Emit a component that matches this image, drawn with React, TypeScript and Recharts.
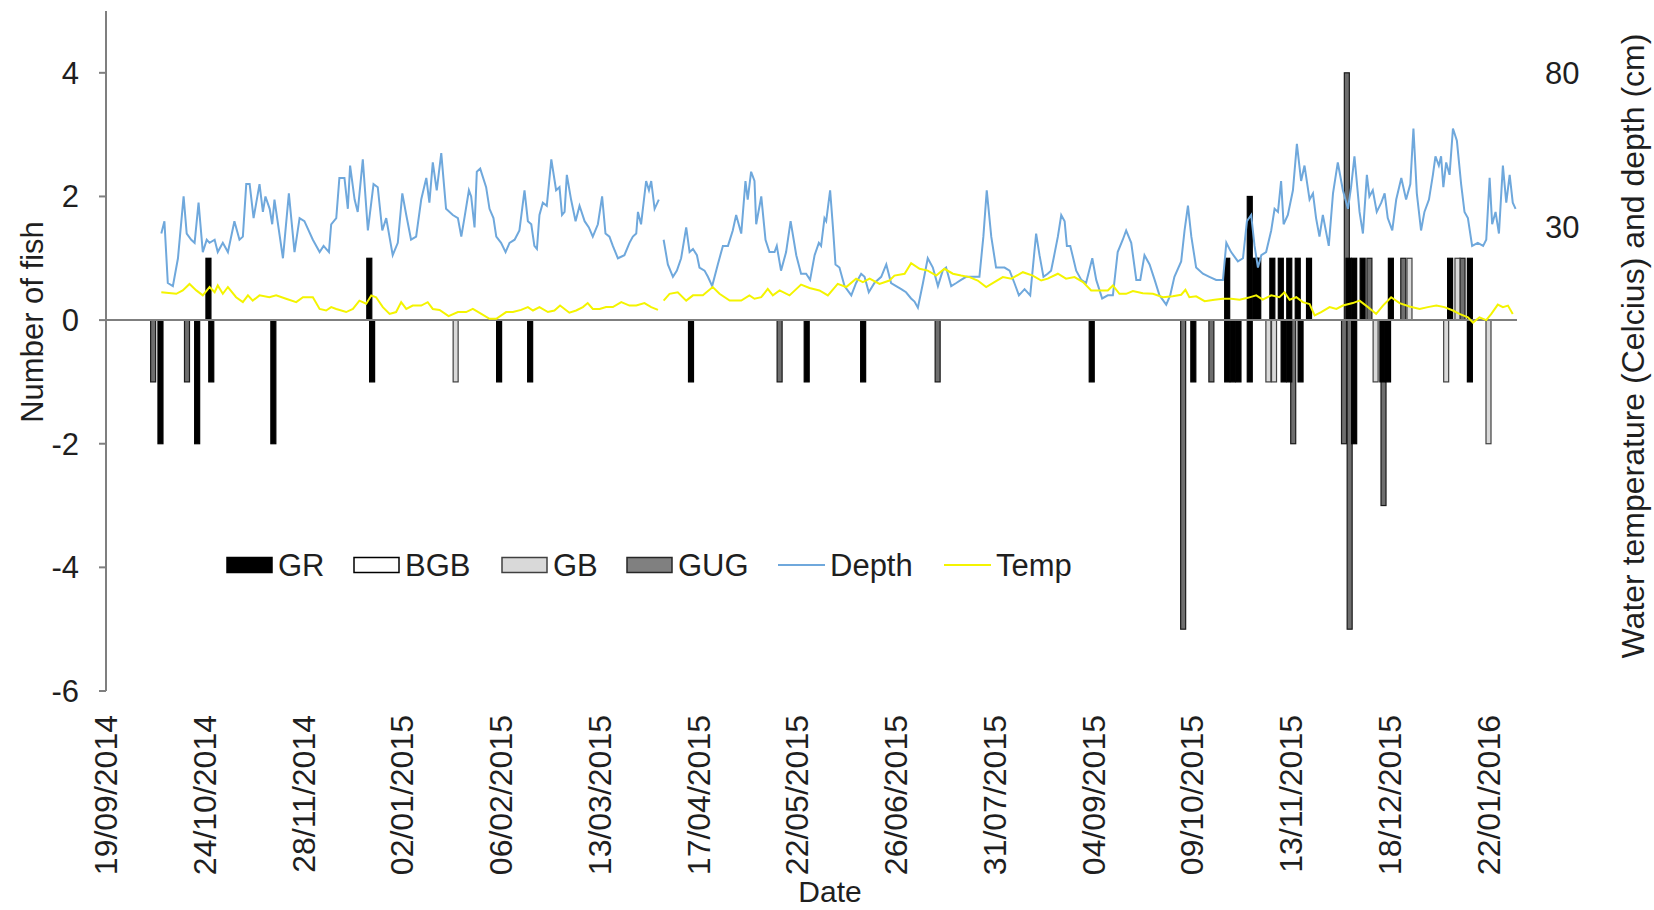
import { ComposedChart, Bar, Line, XAxis, YAxis, ReferenceLine } from 'recharts';

// all x values are days since 19/09/2014
const START = Date.UTC(2014, 8, 19);
const DAY_MS = 86400000;

const dateTicks = [0, 35, 70, 105, 140, 175, 210, 245, 280, 315, 350, 385, 420, 455, 490];
const fishTicks = [-6, -4, -2, 0, 2, 4];
const envTicks = [30, 80];

// fish passing the counter: [day, count], positive = upstream, negative = downstream
const grMoves: [number, number][] = [
  [19, -2], [32, -2], [36, 1], [37, -1], [59, -2], [93, 1], [94, -1], [139, -1], [150, -1],
  [207, -1], [248, -1], [268, -1], [349, -1], [385, -1], [397, 1], [397, -1], [399, -1],
  [401, -1], [405, 2], [405, -1], [407, 1], [408, 1], [413, 1], [416, 1], [417, -1],
  [419, 1], [419, -1], [422, 1], [423, -1], [426, 1], [440, 1], [442, 1], [442, -2],
  [445, 1], [452, -1], [454, -1], [455, 1], [476, 1], [483, 1], [483, -1],
];
const bgbMoves: [number, number][] = [];
const gbMoves: [number, number][] = [
  [124, -1], [412, -1], [414, -1], [450, -1], [462, 1], [475, -1], [479, 1], [490, -2],
];
const gugMoves: [number, number][] = [
  [17, -1], [29, -1], [239, -1], [295, -1], [382, -5], [392, -1], [421, -2], [439, -2],
  [440, 4], [441, -5], [448, 1], [453, -3], [460, 1], [481, 1],
];

// logger readings: [day, value]; null marks the gap in early April 2015
const depthCm: [number, number | null][] = [
  [19.6, 28], [20.7, 32], [21.9, 12], [23.7, 11], [25.5, 20], [27.5, 40], [28.6, 28], [30.2, 26],
  [31.4, 25], [32.8, 38], [34.3, 22], [35.7, 26], [36.7, 25], [38.5, 26], [39.6, 22], [41.4, 25],
  [43.2, 22], [45.5, 32], [47.3, 26], [48.5, 27], [49.7, 44], [50.9, 44], [52.3, 33], [54.4, 44],
  [55.6, 35], [56.5, 40], [58.0, 36], [58.9, 31], [59.7, 39], [62.7, 20], [64.8, 41], [66.8, 22],
  [68.6, 33], [70.3, 32], [73.3, 26], [75.7, 22], [77.1, 24], [79.0, 22], [79.8, 31], [81.6, 33],
  [82.7, 46], [84.5, 46], [85.7, 36], [86.5, 50], [88.1, 39], [89.2, 35], [91.0, 52], [92.8, 29],
  [94.8, 44], [96.3, 43], [97.9, 29], [99.3, 33], [101.6, 21], [103.4, 25], [105.0, 41], [106.4, 34],
  [108.1, 26], [109.9, 27], [111.7, 39], [113.5, 46], [114.6, 38], [115.8, 51], [117.2, 42], [118.8, 54],
  [120.5, 36], [122.9, 34], [124.7, 33], [125.9, 27], [127.0, 33], [128.6, 42], [129.4, 40], [130.6, 30],
  [131.4, 48], [132.6, 49], [134.7, 43], [135.9, 36], [137.3, 33], [138.3, 27], [140.0, 25], [141.6, 22],
  [143.0, 25], [144.8, 26], [146.5, 29], [148.3, 42], [149.5, 32], [150.7, 31], [151.8, 24], [152.7, 23],
  [153.6, 34], [154.8, 38], [156.2, 37], [157.8, 52], [159.5, 42], [160.7, 43], [161.6, 34], [162.5, 35],
  [163.3, 47], [164.8, 39], [166.4, 32], [167.8, 37], [169.6, 32], [171.1, 30], [172.5, 27], [174.3, 31],
  [175.8, 40], [177.0, 28], [178.4, 27], [179.6, 24], [181.4, 20], [183.7, 21], [185.5, 25], [186.7, 27],
  [187.9, 28], [188.5, 35], [189.6, 31], [191.4, 45], [192.4, 42], [193.2, 45], [194.4, 36], [195.9, 39],
  [196.8, null],
  [197.6, 26], [199.1, 18], [200.9, 14], [202.3, 16], [203.8, 20], [205.6, 30], [206.8, 22], [208.0, 23],
  [209.4, 21], [210.3, 17], [212.1, 16], [213.3, 14], [214.8, 11], [216.8, 18], [218.6, 24], [220.4, 24],
  [222.1, 29], [223.3, 34], [225.1, 28], [226.6, 45], [227.4, 39], [228.6, 48], [229.8, 45], [230.4, 31],
  [232.2, 40], [233.7, 26], [235.1, 22], [236.9, 22], [237.7, 24], [239.2, 16], [241.0, 22], [242.6, 32],
  [244.6, 21], [246.3, 15], [248.1, 15], [249.5, 13], [251.1, 21], [252.6, 25], [253.4, 24], [254.6, 33],
  [255.2, 32], [256.6, 42], [257.6, 30], [258.5, 18], [259.9, 17], [261.7, 11], [264.1, 8], [265.8, 12],
  [267.6, 15], [268.8, 14], [270.3, 9], [272.3, 12], [274.7, 14], [276.5, 18], [278.2, 12], [280.0, 11],
  [281.8, 10], [283.5, 9], [285.3, 7], [286.5, 6], [287.7, 4], [289.5, 12], [291.2, 20], [293.0, 17],
  [294.8, 11], [296.5, 16], [297.7, 17], [299.5, 11], [301.3, 12], [303.0, 13], [304.8, 14], [307.2, 14],
  [309.5, 14], [310.9, 27], [312.1, 42], [313.7, 27], [315.4, 17], [318.4, 17], [320.2, 16], [321.9, 12],
  [323.5, 8], [325.5, 10], [327.5, 8], [329.6, 28], [330.8, 21], [332.2, 14], [333.7, 15], [334.9, 16],
  [335.8, 20], [337.3, 27], [338.5, 34], [339.7, 32], [340.5, 24], [341.7, 24], [343.8, 16], [345.6, 13],
  [347.3, 12], [349.5, 20], [350.9, 13], [353.0, 7], [355.0, 8], [356.8, 8], [358.5, 22], [360.3, 26],
  [361.5, 29], [363.3, 25], [365.1, 13], [366.5, 13], [368.0, 21], [369.8, 18], [371.6, 13], [373.3, 8],
  [375.7, 5], [377.1, 8], [378.6, 14], [381.0, 19], [382.2, 29], [383.4, 37], [384.6, 27], [386.3, 17],
  [388.7, 15], [391.0, 14], [393.4, 13], [395.8, 13], [397.0, 25], [398.7, 22], [401.1, 19], [402.9, 20],
  [404.3, 32], [405.8, 34], [407.0, 24], [408.2, 17], [409.4, 21], [411.1, 22], [412.9, 29], [414.1, 36],
  [415.3, 35], [416.4, 45], [417.3, 31], [418.8, 34], [420.6, 42], [422.0, 57], [423.5, 45], [424.7, 50],
  [426.5, 39], [427.7, 41], [428.8, 33], [430.0, 27], [431.2, 34], [433.3, 24], [434.8, 41], [436.5, 51],
  [438.3, 42], [440.1, 36], [441.2, 43], [442.4, 53], [444.2, 35], [445.4, 28], [446.8, 47], [447.7, 40],
  [448.9, 42], [450.3, 35], [451.9, 38], [453.1, 41], [454.2, 33], [455.8, 29], [457.2, 39], [459.0, 46],
  [460.7, 39], [462.2, 44], [463.3, 62], [464.5, 41], [466.0, 29], [467.2, 35], [468.8, 39], [470.2, 47],
  [471.1, 53], [472.3, 50], [473.1, 53], [473.9, 43], [474.9, 51], [476.1, 47], [477.3, 62], [478.7, 58],
  [480.2, 44], [481.4, 35], [482.6, 33], [484.1, 24], [486.1, 25], [488.0, 24], [489.1, 26], [490.3, 46],
  [491.2, 31], [492.4, 35], [493.6, 28], [495.0, 50], [496.2, 38], [497.4, 47], [498.5, 38], [499.5, 36],
];

const tempC: [number, number | null][] = [
  [19.6, 9], [24.9, 8.5], [27.2, 9.6], [29.6, 11.7], [32.0, 9.6], [34.3, 8], [36.7, 10.7], [38.5, 9],
  [39.6, 11.2], [41.4, 8.5], [43.2, 10.7], [46.1, 7.4], [48.5, 5.8], [50.3, 8], [52.0, 6.3], [54.4, 8],
  [57.9, 7.4], [60.3, 8], [63.8, 6.9], [67.4, 5.8], [69.8, 7.4], [73.3, 7.4], [75.7, 3.6], [78.0, 3.1],
  [79.8, 4.2], [81.6, 3.6], [85.1, 2.6], [87.5, 3.6], [89.8, 6.3], [92.2, 5.3], [94.0, 8], [95.7, 7.4],
  [98.1, 4.2], [100.5, 2], [102.8, 2.6], [104.6, 5.8], [106.4, 3.6], [108.7, 4.7], [111.7, 4.7], [114.0, 5.8],
  [115.8, 3.6], [118.2, 3.3], [121.4, 1.3], [124.7, 2.6], [127.6, 2.6], [130.0, 3.6], [133.0, 2], [135.9, 0.4],
  [138.3, 0.4], [141.8, 2.6], [144.2, 2.6], [147.1, 3.3], [149.5, 4.2], [151.3, 3.1], [153.6, 4.2], [156.6, 2.6],
  [158.9, 3.1], [160.9, 4.7], [162.5, 3.6], [164.2, 2.4], [166.6, 3.1], [169.0, 4.2], [170.7, 5.5], [172.5, 3.6],
  [174.9, 3.6], [177.2, 4.2], [179.6, 4.2], [182.6, 5.8], [185.5, 4.7], [187.9, 4.7], [190.8, 5.5], [193.2, 4.2],
  [195.6, 3.3],
  [196.8, null],
  [197.6, 6.3], [199.7, 8.5], [202.6, 9], [205.6, 6.3], [208.0, 8], [211.5, 8], [215.0, 10.7], [217.4, 8.5],
  [221.0, 6.3], [225.1, 6.3], [228.0, 8], [229.8, 6.9], [232.2, 7.4], [234.5, 10.1], [236.3, 8], [238.7, 9.6],
  [242.2, 8], [246.3, 11.5], [249.3, 10.4], [252.8, 9.6], [255.8, 8], [259.3, 11.7], [262.3, 10.7], [265.8, 13.4],
  [268.2, 12.3], [270.6, 13.4], [274.1, 11.7], [277.6, 12.8], [279.4, 14.4], [283.0, 15], [285.3, 18.4], [288.3, 16.6],
  [291.2, 16], [294.2, 14.4], [297.1, 16.6], [300.1, 15], [303.0, 14.4], [306.0, 13.9], [308.9, 12.8], [311.9, 10.7],
  [314.8, 12.3], [317.8, 13.9], [320.8, 13.4], [324.9, 15.5], [328.4, 14.4], [331.4, 12.8], [333.7, 13.4], [337.3, 15],
  [340.2, 13.4], [343.2, 13.9], [346.2, 12.3], [349.1, 9.6], [352.1, 9.6], [355.0, 9.6], [356.8, 11.2], [359.1, 8.5],
  [361.5, 8.5], [363.9, 9.4], [367.4, 8.7], [371.0, 8.5], [374.5, 7.4], [378.0, 7.7], [381.0, 8.2], [382.5, 9.8],
  [383.9, 7.4], [386.3, 7.7], [389.3, 6.1], [392.8, 6.6], [395.8, 6.9], [398.7, 6.9], [401.7, 6.6], [404.6, 7.2],
  [407.6, 8], [409.9, 6.6], [412.9, 8], [415.8, 7.4], [417.6, 9], [419.4, 6.6], [421.8, 7.4], [424.1, 5.8],
  [426.5, 5.2], [428.3, 1.5], [430.6, 2.6], [433.6, 4.2], [436.0, 3.6], [438.3, 4.7], [441.8, 5.5], [444.2, 6.3],
  [447.2, 4.2], [450.1, 2], [452.5, 4.7], [455.4, 7.4], [458.4, 5.5], [461.9, 4.4], [465.5, 3.6], [468.4, 4.2],
  [471.4, 4.7], [474.3, 4.2], [477.3, 3.1], [479.6, 2], [482.6, 0.9], [484.4, -0.8], [486.7, 0.9], [489.1, 0],
  [490.9, 2], [493.2, 5], [495.0, 4.2], [496.8, 4.7], [498.5, 2],
];

const FONT = '"Liberation Sans", Arial, sans-serif';
const TEXT = '#1f1f1f';
const AXIS = '#7f7f7f';
const DEPTH_COLOR = '#6fa8dc';
const TEMP_COLOR = '#f4f400';

// drawn back to front, so GR ends up on top
const species = [
  { key: 'GUG', moves: gugMoves, fill: '#6e6e6e', stroke: '#1a1a1a' },
  { key: 'GB', moves: gbMoves, fill: '#d9d9d9', stroke: '#404040' },
  { key: 'BGB', moves: bgbMoves, fill: '#ffffff', stroke: '#000000' },
  { key: 'GR', moves: grMoves, fill: '#000000', stroke: '#000000' },
];

const byDay = new Map<number, Record<string, number>>();
species.forEach((s) => {
  s.moves.forEach(([day, n]) => {
    const row = byDay.get(day) ?? { day };
    const k = s.key + (n > 0 ? 'up' : 'down');
    row[k] = (row[k] ?? 0) + n;
    byDay.set(day, row);
  });
});
const fishRows = [...byDay.values()].sort((a, b) => a.day - b.day);

const depthRows = depthCm.map(([day, v]) => ({ day, depth: v }));
const tempRows = tempC.map(([day, v]) => ({ day, temp: v }));

const fmtDate = (d: number) => {
  const dt = new Date(START + d * DAY_MS);
  const dd = String(dt.getUTCDate()).padStart(2, '0');
  const mm = String(dt.getUTCMonth() + 1).padStart(2, '0');
  return `${dd}/${mm}/${dt.getUTCFullYear()}`;
};

const BAR_W = 5;

function FishBar(props: any) {
  const { x, y, width, height, fill, stroke } = props;
  if (!Number.isFinite(height) || Math.abs(height) < 0.5) return <g />;
  const top = height < 0 ? y + height : y;
  return (
    <rect
      x={x + width / 2 - BAR_W / 2}
      y={top}
      width={BAR_W}
      height={Math.abs(height)}
      fill={fill}
      stroke={stroke}
      strokeWidth={1.2}
    />
  );
}

function DateTick({ x, y, payload }: any) {
  return (
    <text
      x={x}
      y={y}
      transform={`rotate(-90, ${x}, ${y})`}
      textAnchor="end"
      dominantBaseline="central"
      fontSize={32}
      fontFamily={FONT}
      fill={TEXT}
    >
      {fmtDate(payload.value)}
    </text>
  );
}

const legendBoxes = [
  { label: 'GR', x: 227, fill: '#000000', stroke: '#000000' },
  { label: 'BGB', x: 354, fill: '#ffffff', stroke: '#000000' },
  { label: 'GB', x: 502, fill: '#d9d9d9', stroke: '#404040' },
  { label: 'GUG', x: 627, fill: '#808080', stroke: '#262626' },
];
const legendLines = [
  { label: 'Depth', x: 778, color: DEPTH_COLOR },
  { label: 'Temp', x: 944, color: TEMP_COLOR },
];

export default function App() {
  const tickStyle = { fontSize: 31, fontFamily: FONT, fill: TEXT };
  const LY = 565;
  return (
    <div style={{ position: 'absolute', left: 0, top: 0, width: 1654, height: 910, background: '#fff' }}>
      <ComposedChart
        width={1654}
        height={910}
        data={fishRows}
        stackOffset="sign"
        margin={{ top: 11, right: 0, bottom: 0, left: 0 }}
      >
        <XAxis
          dataKey="day"
          type="number"
          domain={[0, 500]}
          ticks={dateTicks}
          interval={0}
          height={219}
          axisLine={false}
          tickLine={false}
          tickSize={0}
          tickMargin={24}
          tick={<DateTick />}
        />
        <XAxis xAxisId="logger" dataKey="day" type="number" domain={[0, 500]} hide />
        <YAxis
          yAxisId="fish"
          domain={[-6, 5]}
          ticks={fishTicks}
          interval={0}
          width={106}
          axisLine={{ stroke: AXIS, strokeWidth: 2 }}
          tickLine={{ stroke: AXIS, strokeWidth: 2 }}
          tickSize={7}
          tickMargin={20}
          tick={tickStyle}
        />
        <YAxis
          yAxisId="env"
          orientation="right"
          domain={[-120, 100]}
          ticks={envTicks}
          interval={0}
          width={137}
          axisLine={false}
          tickLine={false}
          tickSize={0}
          tickMargin={28}
          tick={tickStyle}
        />
        <ReferenceLine yAxisId="fish" y={0} stroke={AXIS} strokeWidth={2} />
        {species.flatMap((s) =>
          ['up', 'down'].map((dir) => (
            <Bar
              key={s.key + dir}
              yAxisId="fish"
              dataKey={s.key + dir}
              stackId={s.key}
              fill={s.fill}
              stroke={s.stroke}
              isAnimationActive={false}
              shape={(p: any) => <FishBar {...p} fill={s.fill} stroke={s.stroke} />}
            />
          ))
        )}
        <Line
          data={depthRows}
          xAxisId="logger"
          yAxisId="env"
          dataKey="depth"
          stroke={DEPTH_COLOR}
          strokeWidth={2}
          dot={false}
          activeDot={false}
          isAnimationActive={false}
        />
        <Line
          data={tempRows}
          xAxisId="logger"
          yAxisId="env"
          dataKey="temp"
          stroke={TEMP_COLOR}
          strokeWidth={2}
          dot={false}
          activeDot={false}
          isAnimationActive={false}
        />
      </ComposedChart>
      <svg
        width={1654}
        height={910}
        style={{ position: 'absolute', left: 0, top: 0, pointerEvents: 'none' }}
        fontFamily={FONT}
        fill={TEXT}
      >
        <text transform="translate(32, 322) rotate(-90)" textAnchor="middle" dominantBaseline="central" fontSize={31}>
          Number of fish
        </text>
        <text transform="translate(1633, 346) rotate(-90)" textAnchor="middle" dominantBaseline="central" fontSize={32}>
          Water temperature (Celcius) and depth (cm)
        </text>
        <text x={830} y={891} textAnchor="middle" dominantBaseline="central" fontSize={30}>
          Date
        </text>
        {legendBoxes.map((b) => (
          <g key={b.label}>
            <rect x={b.x} y={LY - 7.5} width={45} height={15} fill={b.fill} stroke={b.stroke} strokeWidth={1.5} />
            <text x={b.x + 51} y={LY} dominantBaseline="central" fontSize={31}>
              {b.label}
            </text>
          </g>
        ))}
        {legendLines.map((l) => (
          <g key={l.label}>
            <line x1={l.x} x2={l.x + 47} y1={LY} y2={LY} stroke={l.color} strokeWidth={2} />
            <text x={l.x + 52} y={LY} dominantBaseline="central" fontSize={31}>
              {l.label}
            </text>
          </g>
        ))}
      </svg>
    </div>
  );
}
